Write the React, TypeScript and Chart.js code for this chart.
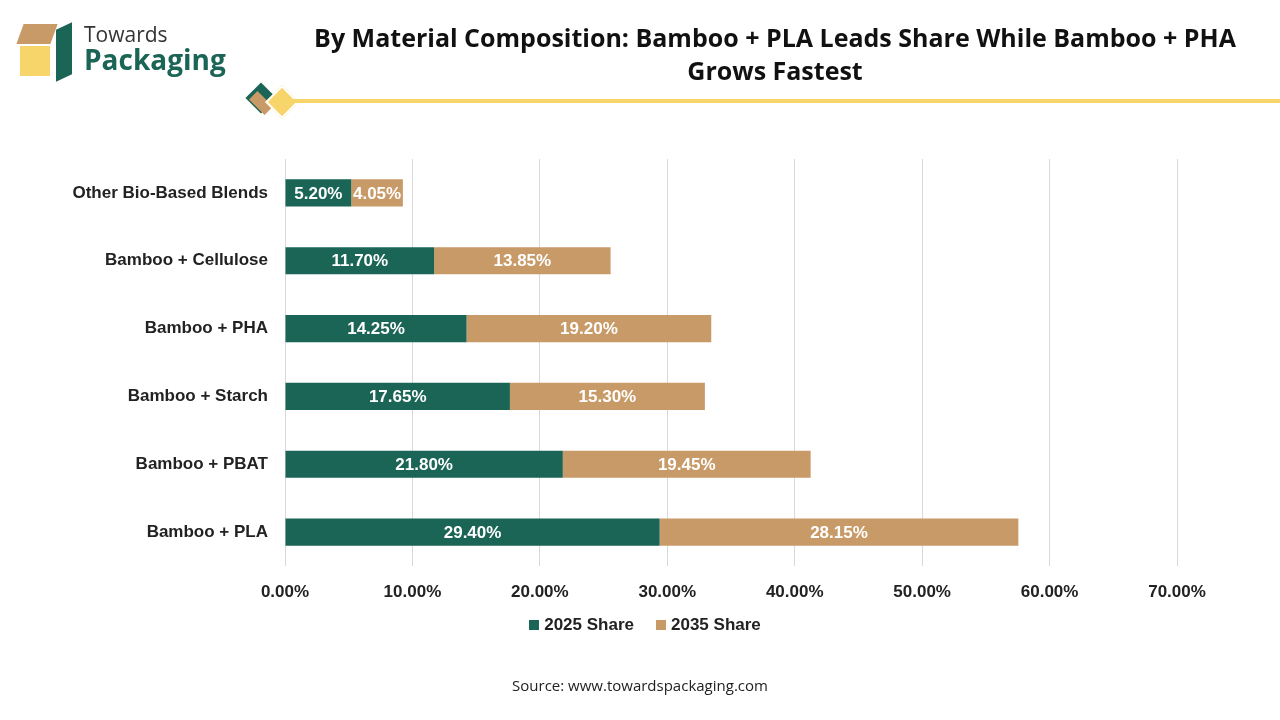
import React, { useEffect, useRef } from "react";
import { Chart, registerables } from "chart.js";
Chart.register(...registerables);

const categories = ["Other Bio-Based Blends", "Bamboo + Cellulose", "Bamboo + PHA", "Bamboo + Starch", "Bamboo + PBAT", "Bamboo + PLA"];
const share2025 = [5.2, 11.7, 14.25, 17.65, 21.8, 29.4];
const share2035 = [4.05, 13.85, 19.2, 15.3, 19.45, 28.15];
const xTicks = [0, 10, 20, 30, 40, 50, 60, 70];
const GREEN = "#1b6556";
const TAN = "#c89a68";
const FONT = "'Liberation Sans', Arial, sans-serif";
const TFONT = "'Open Sans', sans-serif";

const labelPlugin = {
  id: "barLabels",
  afterDatasetsDraw(chart: any) {
    const ctx = chart.ctx;
    ctx.save();
    ctx.font = `bold 17px ${FONT}`;
    ctx.fillStyle = "#ffffff";
    ctx.textAlign = "center";
    ctx.textBaseline = "middle";
    chart.data.datasets.forEach((ds: any, di: number) => {
      chart.getDatasetMeta(di).data.forEach((bar: any, i: number) => {
        const cx = (bar.x + bar.base) / 2;
        ctx.fillText(ds.data[i].toFixed(2) + "%", cx, bar.y + 1);
      });
    });
    ctx.restore();
  },
};

export default function App() {
  const ref = useRef<HTMLCanvasElement>(null);
  useEffect(() => {
    const chart = new Chart(ref.current!, {
      type: "bar",
      data: {
        labels: categories,
        datasets: [
          { label: "2025 Share", data: share2025, backgroundColor: GREEN, categoryPercentage: 0.4, barPercentage: 1 },
          { label: "2035 Share", data: share2035, backgroundColor: TAN, categoryPercentage: 0.4, barPercentage: 1 },
        ],
      },
      options: {
        indexAxis: "y",
        animation: false,
        responsive: false,
        layout: { padding: { top: 159, right: 103, bottom: 120, left: 0 } },
        plugins: { legend: { display: false }, tooltip: { enabled: false } },
        scales: {
          x: {
            stacked: true,
            min: 0,
            max: 70,
            afterBuildTicks: (s: any) => { s.ticks = xTicks.map((v) => ({ value: v })); },
            grid: { color: "#d9d9d9", drawTicks: false },
            border: { display: false },
            ticks: { padding: 16, color: "#222", font: { family: FONT, size: 17, weight: "bold" }, callback: (v: any) => Number(v).toFixed(2) + "%" },
            afterFit: (s: any) => { s.height = 34; },
          },
          y: {
            stacked: true,
            grid: { display: false, drawTicks: false },
            border: { display: false },
            ticks: { padding: 17, color: "#222", font: { family: FONT, size: 17, weight: "bold" } },
            afterFit: (s: any) => { s.width = 285; },
          },
        },
      } as any,
      plugins: [labelPlugin],
    });
    return () => chart.destroy();
  }, []);

  return (
    <div style={{ position: "absolute", left: 0, top: 0, width: 1280, height: 720, background: "#fff", fontFamily: FONT, overflow: "hidden" }}>
      <canvas ref={ref} width={1280} height={720} style={{ position: "absolute", left: 0, top: 0 }} />
      {/* logo */}
      <div style={{ position: "absolute", left: 20, top: 24, width: 34, height: 20, background: "#c89a68", transform: "skewX(-20deg)" }} />
      <div style={{ position: "absolute", left: 20, top: 46, width: 30, height: 30, background: "#f7d56a" }} />
      <div style={{ position: "absolute", left: 56, top: 26, width: 16, height: 52, background: "#1b6556", transform: "skewY(-25deg)" }} />
      <div style={{ position: "absolute", left: 84, top: 20, fontSize: 21, color: "#333", fontFamily: TFONT }}>Towards</div>
      <div style={{ position: "absolute", left: 84, top: 40, fontSize: 28, fontWeight: "bold", color: "#1b6556", fontFamily: TFONT }}>Packaging</div>
      {/* title */}
      <div style={{ position: "absolute", left: 300, width: 950, top: 21, textAlign: "center", fontSize: 25, fontWeight: "bold", color: "#111", lineHeight: "33px", fontFamily: TFONT }}>
        By Material Composition: Bamboo + PLA Leads Share While Bamboo + PHA Grows Fastest
      </div>
      {/* decorative line */}
      <div style={{ position: "absolute", left: 250, top: 87, width: 22, height: 22, background: "#1b6556", transform: "rotate(45deg)" }} />
      <div style={{ position: "absolute", left: 250, top: 97, width: 22, height: 12, background: "#c89a68", transform: "rotate(45deg)" }} />
      <div style={{ position: "absolute", left: 270, top: 90, width: 20, height: 20, background: "#f7d56a", transform: "rotate(45deg)", border: "2px solid #fff" }} />
      <div style={{ position: "absolute", left: 292, top: 99, width: 988, height: 4, background: "#f7d56a" }} />
      {/* legend */}
      <div style={{ position: "absolute", top: 615, left: 0, width: 1280, display: "flex", justifyContent: "center", gap: 22, fontSize: 17, fontWeight: "bold", color: "#222" }}>
        <span style={{ display: "flex", alignItems: "center", gap: 5, marginLeft: 10 }}><span style={{ width: 10, height: 10, background: GREEN }} />2025 Share</span>
        <span style={{ display: "flex", alignItems: "center", gap: 5 }}><span style={{ width: 10, height: 10, background: TAN }} />2035 Share</span>
      </div>
      <div style={{ position: "absolute", top: 675, left: 0, width: 1280, textAlign: "center", fontSize: 15, color: "#222", fontFamily: TFONT }}>
        Source: www.towardspackaging.com
      </div>
    </div>
  );
}
